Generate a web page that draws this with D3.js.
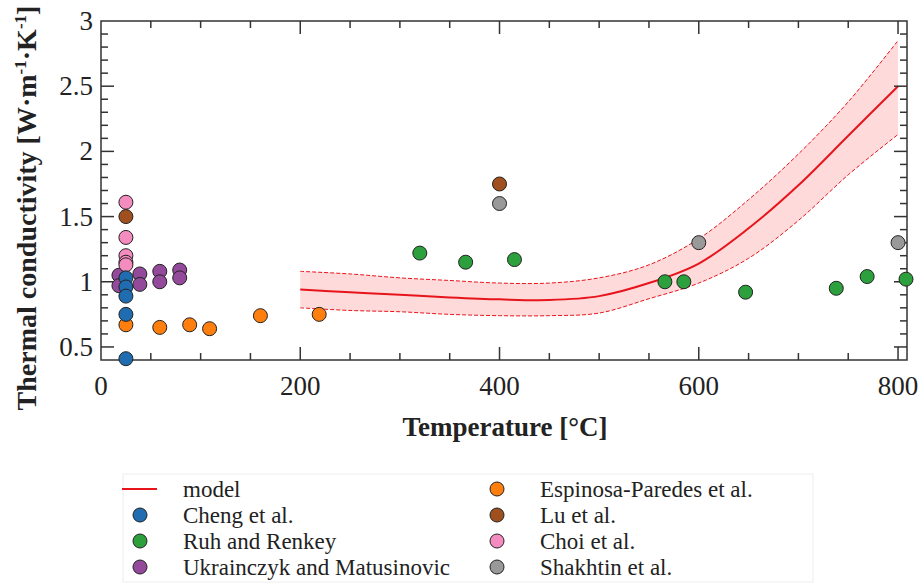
<!DOCTYPE html>
<html>
<head>
<meta charset="utf-8">
<script src="https://cdn.jsdelivr.net/npm/d3@7"></script>
<style>
  body { margin: 0; background: white; }
  text { font-family: 'Liberation Serif', 'Times New Roman', serif; fill: #222; }
</style>
</head>
<body>
<div id="chart"></div>
<script>
// model curve (temperature in C, conductivity)
var modelTemps = [200, 250, 300, 350, 400, 450, 500, 550, 600, 650, 700, 750, 800]
var modelMid = [0.94, 0.92, 0.9, 0.88, 0.865, 0.86, 0.89, 0.99, 1.14, 1.41, 1.74, 2.12, 2.5]
var modelUpper = [1.08, 1.06, 1.03, 1.01, 0.99, 0.99, 1.03, 1.13, 1.33, 1.63, 1.98, 2.38, 2.85]
var modelLower = [0.8, 0.78, 0.77, 0.75, 0.74, 0.74, 0.76, 0.87, 0.99, 1.18, 1.47, 1.82, 2.13]

// measured data, one pair of arrays per source
var chengT = [25, 25, 25, 25, 25]
var chengK = [1.03, 0.96, 0.89, 0.75, 0.41]
var ruhT = [320, 366, 415, 566, 585, 647, 738, 769, 808]
var ruhK = [1.22, 1.15, 1.17, 1.0, 1.0, 0.92, 0.95, 1.04, 1.02]
var ukrT = [18, 18, 39, 39, 59, 59, 79, 79]
var ukrK = [1.05, 0.97, 1.06, 0.98, 1.08, 1.0, 1.09, 1.03]
var espT = [25, 59, 89, 109, 160, 219]
var espK = [0.67, 0.65, 0.67, 0.64, 0.74, 0.75]
var luT = [25, 400]
var luK = [1.5, 1.75]
var choiT = [25, 25, 25, 25, 25]
var choiK = [1.61, 1.34, 1.2, 1.15, 1.13]
var shakT = [400, 600, 800]
var shakK = [1.6, 1.3, 1.3]

var seriesNames = ['Cheng et al.', 'Ruh and Renkey', 'Ukrainczyk and Matusinovic',
  'Espinosa-Paredes et al.', 'Lu et al.', 'Choi et al.', 'Shakhtin et al.']
var seriesColors = ['#1f6db0', '#2ca03c', '#944a9a', '#ff7f0e', '#a0501e', '#f58cc0', '#999999']
var seriesT = [chengT, ruhT, ukrT, espT, luT, choiT, shakT]
var seriesK = [chengK, ruhK, ukrK, espK, luK, choiK, shakK]
// which series is painted first (cheng ends up on top)
var drawOrder = [2, 3, 1, 6, 5, 4, 0]

var xTicks = [0, 200, 400, 600, 800]
var yTicks = [0.5, 1, 1.5, 2, 2.5, 3]

var width = 921
var height = 583
var plot = { left: 101, right: 907, top: 21, bottom: 360 }

var svg = d3
  .select('#chart')
  .append('svg')
  .attr('width', width)
  .attr('height', height)

var xScale = d3.scaleLinear().domain([0, 809]).range([plot.left, plot.right])
var yScale = d3.scaleLinear().domain([0.4, 3]).range([plot.bottom, plot.top])

// model band
var modelData = modelTemps.map((t, i) => ({
  t: t,
  mid: modelMid[i],
  up: modelUpper[i],
  lo: modelLower[i]
}))

var area = d3
  .area()
  .x(d => xScale(d.t))
  .y0(d => yScale(d.lo))
  .y1(d => yScale(d.up))
  .curve(d3.curveCatmullRom)

svg
  .append('path')
  .datum(modelData)
  .attr('d', area)
  .attr('fill', '#ffdada')

function bandLine(key, dash, w) {
  var line = d3
    .line()
    .x(d => xScale(d.t))
    .y(d => yScale(d[key]))
    .curve(d3.curveCatmullRom)
  svg
    .append('path')
    .datum(modelData)
    .attr('d', line)
    .attr('fill', 'none')
    .attr('stroke', '#e8141c')
    .attr('stroke-width', w)
    .attr('stroke-dasharray', dash)
}
bandLine('up', '4,2', 1)
bandLine('lo', '4,2', 1)
bandLine('mid', null, 2)

// axes frame with inward ticks
var frame = svg.append('g').attr('class', 'frame')

function tickLines(values, major) {
  var len = major ? 13 : 7
  values.forEach(v => {
    var x = xScale(v)
    frame.append('line').attr('x1', x).attr('x2', x).attr('y1', plot.bottom).attr('y2', plot.bottom - len)
    frame.append('line').attr('x1', x).attr('x2', x).attr('y1', plot.top).attr('y2', plot.top + len)
  })
}
tickLines(d3.range(50, 801, 50).filter(v => v % 200 !== 0), false)
tickLines(xTicks.filter(v => v > 0), true)

function yTickLines(values, major) {
  var len = major ? 13 : 7
  values.forEach(v => {
    var y = yScale(v)
    frame.append('line').attr('x1', plot.left).attr('x2', plot.left + len).attr('y1', y).attr('y2', y)
    frame.append('line').attr('x1', plot.right).attr('x2', plot.right - len).attr('y1', y).attr('y2', y)
  })
}
yTickLines(d3.range(5, 30).map(v => v / 10).filter(v => Math.abs(v * 2 - Math.round(v * 2)) > 0.01), false)
yTickLines(yTicks.filter(v => v < 3), true)

frame
  .append('rect')
  .attr('x', plot.left)
  .attr('y', plot.top)
  .attr('width', plot.right - plot.left)
  .attr('height', plot.bottom - plot.top)
  .attr('fill', 'none')

frame.selectAll('line, rect').attr('stroke', '#333').attr('stroke-width', 1.5)

// data points
drawOrder.forEach(s => {
  var pts = seriesT[s].map((t, i) => ({ t: t, k: seriesK[s][i] }))
  svg
    .append('g')
    .selectAll('circle')
    .data(pts)
    .enter()
    .append('circle')
    .attr('cx', d => xScale(d.t))
    .attr('cy', d => yScale(d.k))
    .attr('r', 7)
    .attr('fill', seriesColors[s])
    .attr('stroke', '#222')
    .attr('stroke-width', 1)
})

// tick labels
svg
  .selectAll('.x-label')
  .data(xTicks)
  .enter()
  .append('text')
  .attr('class', 'x-label')
  .attr('x', d => xScale(d))
  .attr('y', 395)
  .attr('text-anchor', 'middle')
  .attr('font-size', 27)
  .text(d => d)

svg
  .selectAll('.y-label')
  .data(yTicks)
  .enter()
  .append('text')
  .attr('class', 'y-label')
  .attr('x', 93)
  .attr('y', d => yScale(d) + 9)
  .attr('text-anchor', 'end')
  .attr('font-size', 27)
  .text(d => d)

// axis titles
svg
  .append('text')
  .attr('x', 505)
  .attr('y', 436)
  .attr('text-anchor', 'middle')
  .attr('font-size', 27)
  .attr('font-weight', 'bold')
  .text('Temperature [°C]')

var yTitle = svg
  .append('text')
  .attr('transform', 'translate(36,208) rotate(-90)')
  .attr('text-anchor', 'middle')
  .attr('font-size', 28)
  .attr('font-weight', 'bold')
yTitle.append('tspan').text('Thermal conductivity [W·m')
yTitle.append('tspan').attr('dy', -10).attr('font-size', 17).text('-1')
yTitle.append('tspan').attr('dy', 10).text('·K')
yTitle.append('tspan').attr('dy', -10).attr('font-size', 17).text('-1')
yTitle.append('tspan').attr('dy', 10).text(']')

// legend
var legend = svg.append('g')
legend
  .append('rect')
  .attr('x', 123)
  .attr('y', 474)
  .attr('width', 690)
  .attr('height', 108)
  .attr('fill', 'none')
  .attr('stroke', '#eeeeee')

var rowY = [489, 515, 541, 567]
var legendItems = [{ name: 'model', line: true }].concat(
  seriesNames.map((n, i) => ({ name: n, color: seriesColors[i] }))
)

legendItems.forEach((d, i) => {
  var col = i < 4 ? 0 : 1
  var y = rowY[i % 4]
  var mx = col === 0 ? 140 : 497
  var tx = col === 0 ? 183 : 540
  if (d.line) {
    legend
      .append('line')
      .attr('x1', 122)
      .attr('x2', 157)
      .attr('y1', y)
      .attr('y2', y)
      .attr('stroke', '#e8141c')
      .attr('stroke-width', 2)
  } else {
    legend
      .append('circle')
      .attr('cx', mx)
      .attr('cy', y)
      .attr('r', 7)
      .attr('fill', d.color)
      .attr('stroke', '#222')
      .attr('stroke-width', 1)
  }
  legend
    .append('text')
    .attr('x', tx)
    .attr('y', y + 8)
    .attr('font-size', 23)
    .text(d.name)
})
</script>
</body>
</html>
